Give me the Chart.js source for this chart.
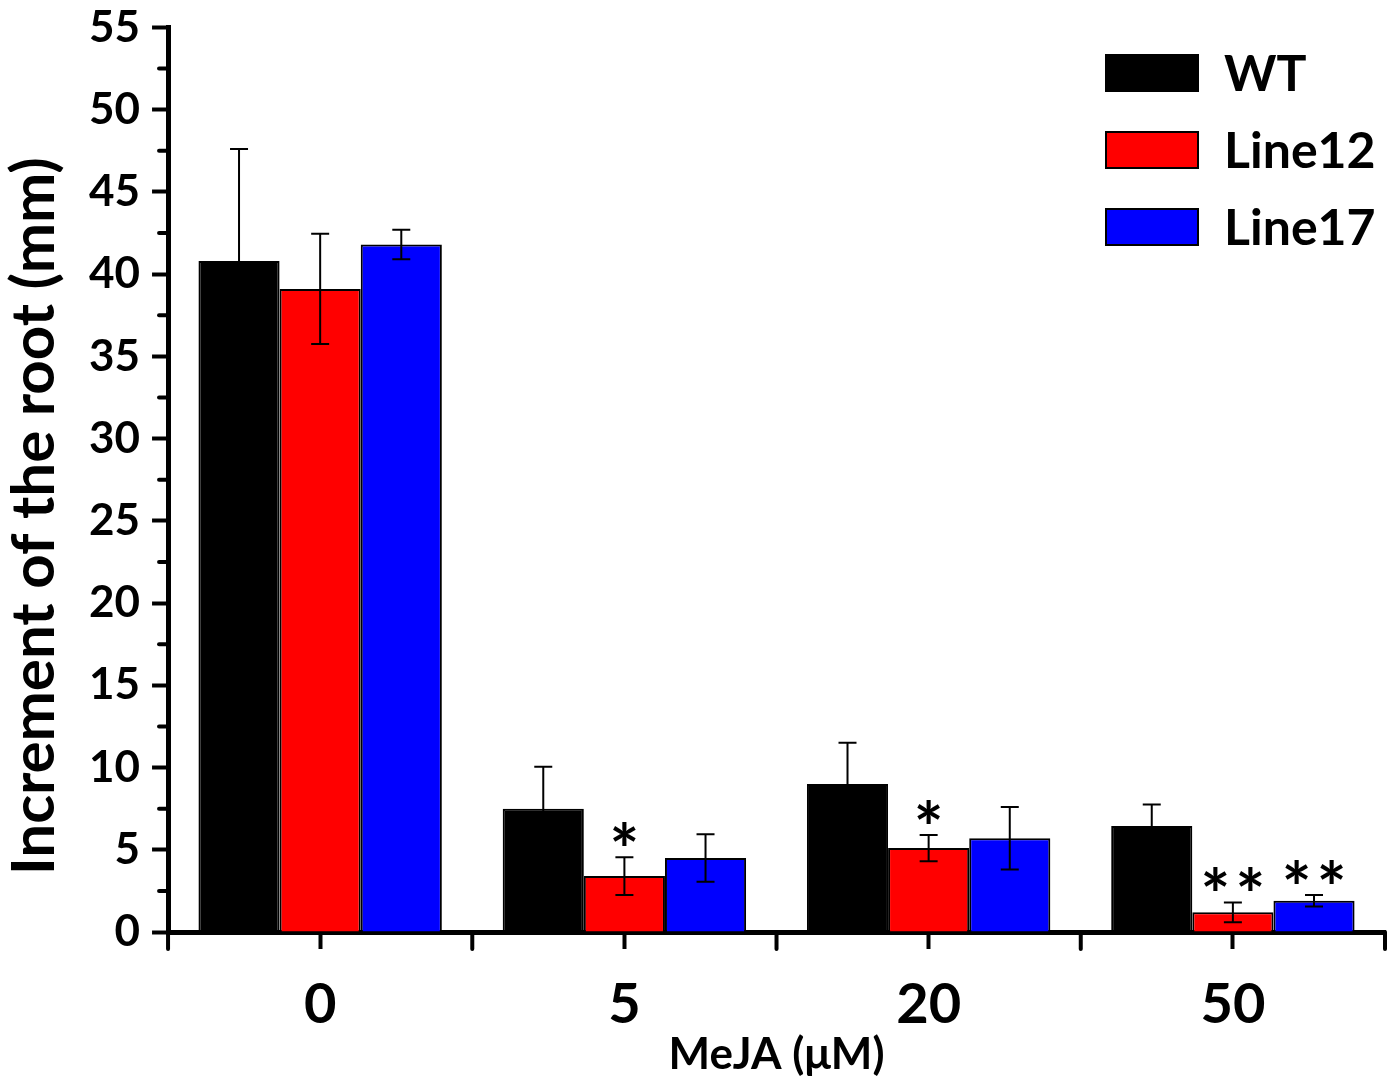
<!DOCTYPE html>
<html>
<head>
<meta charset="utf-8">
<title>Root increment vs MeJA</title>
<script src="https://cdn.jsdelivr.net/npm/chart.js@4.4.0/dist/chart.umd.min.js"></script>
<style>
  html, body { margin: 0; padding: 0; background: #fff; }
  canvas { display: block; }
</style>
</head>
<body>
<canvas id="chart" width="1395" height="1085"></canvas>
<script>
// Data
const categories = ['0', '5', '20', '50'];
const wtValues = [40.8, 7.5, 9.0, 6.45];
const wtErrors = [6.8, 2.55, 2.5, 1.3];
const line12Values = [39.1, 3.4, 5.1, 1.2];
const line12Errors = [3.35, 1.15, 0.8, 0.6];
const line17Values = [41.8, 4.5, 5.7, 1.9];
const line17Errors = [0.9, 1.45, 1.9, 0.35];
const line12Marks = ['', '*', '*', '**'];
const line17Marks = ['', '', '', '**'];
const yTicks = [0, 5, 10, 15, 20, 25, 30, 35, 40, 45, 50, 55];

const FONT = 'Lato, "Open Sans", sans-serif';

// Error bars and significance marks, drawn from the y scale
const errorBarPlugin = {
    id: 'errorBars',
    afterDatasetsDraw(chart) {
        const ctx = chart.ctx;
        const y = chart.scales.y;
        ctx.save();
        ctx.strokeStyle = '#000';
        ctx.lineWidth = 2;
        chart.data.datasets.forEach((ds, di) => {
            const meta = chart.getDatasetMeta(di);
            meta.data.forEach((bar, i) => {
                const v = ds.data[i];
                const e = ds.errors[i];
                const top = y.getPixelForValue(v + e);
                const bot = y.getPixelForValue(v - e);
                const cap = 9;
                ctx.beginPath();
                ctx.moveTo(bar.x, top);
                ctx.lineTo(bar.x, bot);
                ctx.moveTo(bar.x - cap, top);
                ctx.lineTo(bar.x + cap, top);
                ctx.moveTo(bar.x - cap, bot);
                ctx.lineTo(bar.x + cap, bot);
                ctx.stroke();

                const mark = ds.marks ? ds.marks[i] : '';
                if (mark) {
                    ctx.fillStyle = '#000';
                    ctx.font = 'bold 70px ' + FONT;
                    ctx.textAlign = 'center';
                    ctx.textBaseline = 'alphabetic';
                    const n = mark.length;
                    for (let k = 0; k < n; k++) {
                        const dx = (k - (n - 1) / 2) * 35;
                        ctx.fillText('*', bar.x + dx, top + 19);
                    }
                }
            });
        });
        ctx.restore();
    }
};

// Extra ticks: x boundaries between groups, y minor ticks
const axisTicksPlugin = {
    id: 'axisTicks',
    afterDraw(chart) {
        const ctx = chart.ctx;
        const x = chart.scales.x;
        const y = chart.scales.y;
        const area = chart.chartArea;
        ctx.save();
        ctx.strokeStyle = '#000';
        ctx.lineWidth = 4;
        ctx.lineCap = 'round';
        const step = x.getPixelForValue(1) - x.getPixelForValue(0);
        for (let i = 0; i <= categories.length; i++) {
            const px = x.getPixelForValue(0) - step / 2 + i * step;
            ctx.beginPath();
            ctx.moveTo(px, area.bottom);
            ctx.lineTo(px, area.bottom + 17);
            ctx.stroke();
        }
        for (let v = 2.5; v < 55; v += 5) {
            const py = y.getPixelForValue(v);
            ctx.beginPath();
            ctx.moveTo(area.left, py);
            ctx.lineTo(area.left - 9, py);
            ctx.stroke();
        }
        ctx.restore();
    }
};

// Legend drawn inside the plot area (top right)
const insideLegendPlugin = {
    id: 'insideLegend',
    afterDraw(chart) {
        const ctx = chart.ctx;
        ctx.save();
        ctx.font = 'bold 50px ' + FONT;
        ctx.textBaseline = 'middle';
        ctx.textAlign = 'left';
        chart.data.datasets.forEach((ds, i) => {
            const cy = 73 + i * 77;
            ctx.fillStyle = ds.backgroundColor;
            ctx.fillRect(1106, cy - 18, 92, 36);
            ctx.strokeStyle = '#000';
            ctx.lineWidth = 2;
            ctx.strokeRect(1106, cy - 18, 92, 36);
            ctx.fillStyle = '#000';
            ctx.fillText(ds.label, 1224, cy + 2);
        });
        ctx.restore();
    }
};

function makeDataset(label, color, values, errors, marks) {
    return {
        label: label,
        data: values,
        errors: errors,
        marks: marks,
        backgroundColor: color,
        borderColor: '#000',
        borderWidth: 2,
        categoryPercentage: 0.8,
        barPercentage: 1.0
    };
}

const ctx = document.getElementById('chart').getContext('2d');
new Chart(ctx, {
    type: 'bar',
    data: {
        labels: categories,
        datasets: [
            makeDataset('WT', '#000000', wtValues, wtErrors, null),
            makeDataset('Line12', '#ff0000', line12Values, line12Errors, line12Marks),
            makeDataset('Line17', '#0000ff', line17Values, line17Errors, line17Marks)
        ]
    },
    options: {
        responsive: false,
        devicePixelRatio: 1,
        animation: false,
        layout: { padding: { top: 0, right: 10, left: 5, bottom: 8 } },
        plugins: {
            legend: { display: false },
            tooltip: { enabled: false }
        },
        scales: {
            x: {
                offset: true,
                grid: {
                    offset: false,
                    drawOnChartArea: false,
                    drawTicks: true,
                    tickLength: 17,
                    tickWidth: 4,
                    tickColor: '#000'
                },
                border: { display: true, color: '#000', width: 5 },
                ticks: {
                    color: '#000',
                    padding: 28,
                    font: { family: FONT, size: 56, weight: 'bold', lineHeight: 1 }
                },
                title: {
                    display: true,
                    text: 'MeJA (μM)',
                    color: '#000',
                    padding: { top: -28, bottom: 0 },
                    font: { family: FONT, size: 44, weight: 'bold', lineHeight: 1 }
                }
            },
            y: {
                min: 0,
                max: 55,
                afterBuildTicks(scale) {
                    scale.ticks = yTicks.map(v => ({ value: v }));
                },
                grid: {
                    drawOnChartArea: false,
                    drawTicks: true,
                    tickLength: 16,
                    tickWidth: 4,
                    tickColor: '#000'
                },
                border: { display: true, color: '#000', width: 5 },
                ticks: {
                    color: '#000',
                    padding: 12,
                    font: { family: FONT, size: 44, weight: 'bold', lineHeight: 0.7 }
                },
                title: {
                    display: true,
                    // trailing spaces push the title down, as in the figure
                    text: 'Increment of the root (mm)\u00a0\u00a0\u00a0\u00a0\u00a0',
                    color: '#000',
                    padding: { top: 0, bottom: 12 },
                    font: { family: FONT, size: 60, weight: 'bold', lineHeight: 1 }
                }
            }
        }
    },
    plugins: [errorBarPlugin, axisTicksPlugin, insideLegendPlugin]
});
</script>
</body>
</html>
